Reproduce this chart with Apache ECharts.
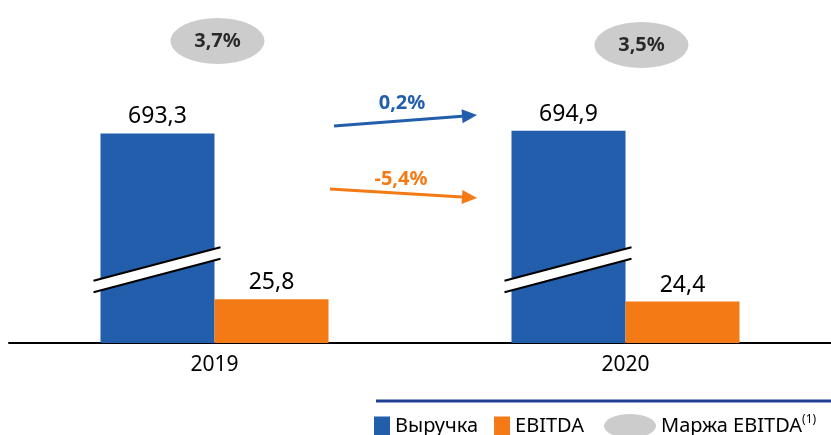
<!DOCTYPE html>
<html>
<head>
<meta charset="utf-8">
<script src="https://cdn.jsdelivr.net/npm/echarts@6/dist/echarts.min.js"></script>
<style>
  html, body { margin: 0; padding: 0; background: #fff; }
  #chart { width: 831px; height: 435px; }
</style>
</head>
<body>
<div id="chart"></div>
<script>
const years = ['2019', '2020']
const revenue = [693.3, 694.9]
const ebitda = [25.8, 24.4]
const margin = [3.7, 3.5]
// growth 2019 -> 2020: revenue, ebitda
const growth = [0.2, -5.4]

const blue = '#225EAB'
const orange = '#F47A16'
const font = 'Noto Sans'

function fmt(v) {
  return v.toFixed(1).replace('.', ',')
}

let chart = echarts.init(document.getElementById('chart'))

let option = {
  animation: false,
  grid: { left: 9, width: 825, top: 20, bottom: 92 },
  legend: [{
    left: 369, top: 411,
    icon: 'rect', itemWidth: 16, itemHeight: 19, itemGap: 16,
    selectedMode: false,
    data: ['Выручка', 'EBITDA'],
    textStyle: { fontFamily: font, fontSize: 20, color: '#000' }
  }, {
    left: 599, top: 409,
    itemWidth: 52, itemHeight: 24,
    selectedMode: false,
    data: [{ name: 'Маржа EBITDA', icon: 'path://M0,12 A26,12 0 1,1 52,12 A26,12 0 1,1 0,12 Z' }],
    formatter: name => name + '{sup|(1)}',
    textStyle: {
      fontFamily: font, fontSize: 20, color: '#000',
      rich: { sup: { fontFamily: font, fontSize: 12, color: '#000', padding: [0, 0, 12, 0] } }
    }
  }],
  xAxis: {
    type: 'category',
    data: years,
    axisLine: { lineStyle: { color: '#000', width: 2 } },
    axisTick: { show: false },
    axisLabel: { fontFamily: font, fontSize: 21, color: '#000', margin: 12 }
  },
  yAxis: [{
    type: 'value',
    show: false,
    min: 0,
    max: 760,
    breaks: [{ start: 40, end: 610, gap: 0 }],
    breakArea: { show: false },
    splitLine: { show: false }
  }, {
    type: 'value',
    show: false,
    min: 0,
    max: 1,
    splitLine: { show: false }
  }],
  series: [{
    name: 'Выручка',
    type: 'bar',
    data: revenue,
    barWidth: 114,
    barGap: '0%',
    itemStyle: { color: blue },
    label: {
      show: true, position: 'top', distance: 5,
      fontFamily: font, fontSize: 23, color: '#000',
      formatter: p => fmt(p.value)
    }
  }, {
    name: 'EBITDA',
    type: 'bar',
    data: ebitda,
    barWidth: 114,
    itemStyle: { color: orange },
    label: {
      show: true, position: 'top', distance: 5,
      fontFamily: font, fontSize: 23, color: '#000',
      formatter: p => fmt(p.value)
    }
  }, {
    name: 'Маржа EBITDA',
    type: 'scatter',
    yAxisIndex: 1,
    symbol: 'circle',
    symbolSize: [94, 46],
    data: years.map((y, i) => ({
      value: [y, 0.935],
      symbolOffset: i === 0 ? [3, 0] : [16, 4]
    })),
    itemStyle: { color: '#BFBFBF' },
    label: {
      show: true, position: 'inside',
      fontFamily: font, fontSize: 20, fontWeight: 'bold', color: '#000',
      formatter: p => fmt(margin[p.dataIndex]) + '%'
    },
    z: 3
  }]
}
chart.setOption(option)

// arrow: shaft + triangular head
function arrow(x1, y1, x2, y2, color) {
  let a = Math.atan2(y2 - y1, x2 - x1)
  let len = 15, half = 7
  let bx = x2 - len * Math.cos(a), by = y2 - len * Math.sin(a)
  let px = -Math.sin(a), py = Math.cos(a)
  return [{
    type: 'line',
    shape: { x1: x1, y1: y1, x2: bx, y2: by },
    style: { stroke: color, lineWidth: 3 }
  }, {
    type: 'polygon',
    shape: { points: [[x2, y2], [bx + half * px, by + half * py], [bx - half * px, by - half * py]] },
    style: { fill: color }
  }]
}

function pct(v) {
  return fmt(v) + '%'
}

let graphic = []
graphic = graphic.concat(arrow(334, 126, 477, 115, blue))
graphic = graphic.concat(arrow(330, 189, 477, 198, orange))
graphic.push({
  type: 'text',
  style: { text: pct(growth[0]), x: 402, y: 103, align: 'center', verticalAlign: 'middle',
    font: 'bold 20px "Noto Sans"', fill: blue }
})
graphic.push({
  type: 'text',
  style: { text: pct(growth[1]), x: 401, y: 179, align: 'center', verticalAlign: 'middle',
    font: 'bold 20px "Noto Sans"', fill: orange }
})
// line above legend
graphic.push({
  type: 'line',
  shape: { x1: 376, y1: 401, x2: 831, y2: 401 },
  style: { stroke: '#203F95', lineWidth: 3 }
})

// break marks on the revenue bars
years.forEach(function (y) {
  let p = chart.convertToPixel({ gridIndex: 0 }, [y, 0])
  let cx = p[0], base = p[1]
  graphic.push({
    type: 'polygon',
    z: 10,
    shape: { points: [[cx - 121, base - 62.3], [cx + 6, base - 95.7], [cx + 6, base - 84.3], [cx - 121, base - 50.7]] },
    style: { fill: '#fff' }
  })
  graphic.push({
    type: 'line', z: 11,
    shape: { x1: cx - 121, y1: base - 62.3, x2: cx + 6, y2: base - 95.7 },
    style: { stroke: '#000', lineWidth: 2 }
  })
  graphic.push({
    type: 'line', z: 11,
    shape: { x1: cx - 121, y1: base - 50.7, x2: cx + 6, y2: base - 84.3 },
    style: { stroke: '#000', lineWidth: 2 }
  })
})

chart.setOption({ graphic: graphic })
</script>
</body>
</html>
